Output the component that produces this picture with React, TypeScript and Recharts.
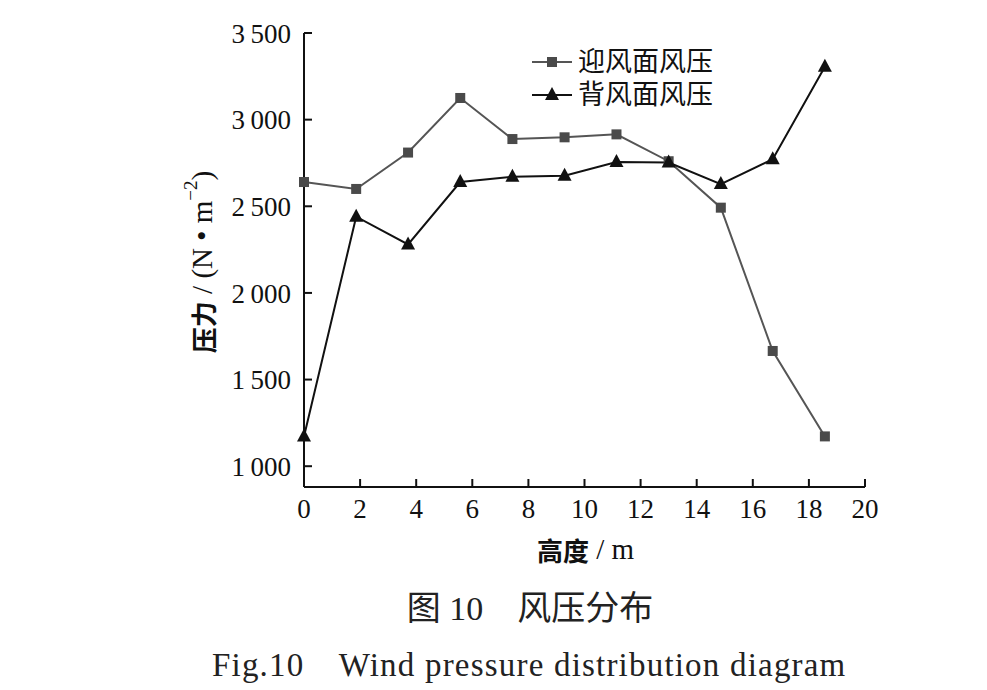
import React from 'react';
import { LineChart, Line, XAxis, YAxis, Legend } from 'recharts';

// heights along the building (m)
const heights = [0, 1.86, 3.71, 5.57, 7.43, 9.29, 11.14, 13.0, 14.86, 16.71, 18.57];
// windward face pressure (N/m2)
const windward = [2640, 2600, 2810, 3125, 2888, 2898, 2915, 2760, 2492, 1665, 1172];
// leeward face pressure (N/m2)
const leeward = [1172, 2440, 2280, 2640, 2670, 2676, 2755, 2752, 2628, 2772, 3305];

const xTicks = [0, 2, 4, 6, 8, 10, 12, 14, 16, 18, 20];
const yTicks = [1000, 1500, 2000, 2500, 3000, 3500];
const seriesNames = ['迎风面风压', '背风面风压'];

const data = heights.map((h, i) => ({ h, windward: windward[i], leeward: leeward[i] }));

const SERIF = '"Liberation Serif", "Noto Sans CJK SC", serif';
const GREY = '#555555';

const fmt = (v: number) => {
  const s = String(v);
  return s.length > 3 ? s.slice(0, s.length - 3) + '\u2009' + s.slice(-3) : s;
};

const SquareDot = (props: any) => {
  const { cx, cy, index } = props;
  if (cx == null || cy == null) return <g key={`s${index}`} />;
  return <rect key={`s${index}`} x={cx - 5} y={cy - 5} width={10} height={10} fill="#4a4a4a" />;
};

const TriangleDot = (props: any) => {
  const { cx, cy, index } = props;
  if (cx == null || cy == null) return <g key={`t${index}`} />;
  return (
    <polygon
      key={`t${index}`}
      points={`${cx},${cy - 8} ${cx - 7},${cy + 5} ${cx + 7},${cy + 5}`}
      fill="#111"
    />
  );
};

const renderLegend = () => (
  <div style={{ fontFamily: SERIF, fontSize: 27, color: '#111', lineHeight: '33px' }}>
    {seriesNames.map((name, i) => (
      <div key={name} style={{ display: 'flex', alignItems: 'center' }}>
        <svg width={46} height={33}>
          <line x1={2} x2={42} y1={16} y2={16} stroke={i === 0 ? GREY : '#111'} strokeWidth={2} />
          {i === 0 ? (
            <rect x={17} y={11} width={10} height={10} fill="#4a4a4a" />
          ) : (
            <polygon points="22,8 15,21 29,21" fill="#111" />
          )}
        </svg>
        <span style={{ marginLeft: 2 }}>{name}</span>
      </div>
    ))}
  </div>
);

const YLabel = () => {
  const cx = 202;
  const cy = 262;
  return (
    <text
      x={cx}
      y={cy}
      transform={`rotate(-90, ${cx}, ${cy})`}
      textAnchor="middle"
      dominantBaseline="central"
      fontFamily={SERIF}
      fontSize={29}
      fill="#111"
    >
      <tspan fontWeight="bold" fontFamily='"Noto Sans CJK SC", sans-serif' fontSize={26}>压力</tspan>
      <tspan> / (N • m</tspan>
      <tspan fontSize={19} dy={-12}>−2</tspan>
      <tspan dy={12}>)</tspan>
    </text>
  );
};

const XLabel = (props: any) => {
  const { viewBox } = props;
  return (
    <text
      x={viewBox.x + viewBox.width / 2 + 1}
      y={549}
      textAnchor="middle"
      dominantBaseline="central"
      fontFamily={SERIF}
      fontSize={29}
      fill="#111"
    >
      <tspan fontWeight="bold" fontFamily='"Noto Sans CJK SC", sans-serif' fontSize={26}>高度</tspan>
      <tspan> / m</tspan>
    </text>
  );
};

export default function App() {
  return (
    <div style={{ position: 'absolute', left: 0, top: 0, width: 987, height: 690, background: '#fff' }}>
      <LineChart
        width={987}
        height={690}
        data={data}
        margin={{ top: 33, right: 122, bottom: 0, left: 240 }}
      >
        <XAxis
          dataKey="h"
          type="number"
          domain={[0, 20]}
          ticks={xTicks}
          interval={0}
          height={203}
          axisLine={{ stroke: '#111', strokeWidth: 2 }}
          tickLine={{ stroke: '#111', strokeWidth: 2, transform: 'translate(0,-8)' }}
          tickSize={8}
          tickMargin={4}
          tick={{ fill: '#111', fontFamily: SERIF, fontSize: 27 }}
          label={<XLabel />}
        />
        <XAxis
          xAxisId="top"
          orientation="top"
          type="number"
          domain={[0, 20]}
          height={0}
          tick={false}
          tickLine={false}
          axisLine={{ stroke: '#111', strokeWidth: 2 }}
        />
        <YAxis
          type="number"
          domain={[880, 3500]}
          ticks={yTicks}
          interval={0}
          width={64}
          allowDataOverflow
          axisLine={{ stroke: '#111', strokeWidth: 2 }}
          tickLine={{ stroke: '#111', strokeWidth: 2, transform: 'translate(8,0)' }}
          tickSize={8}
          tickMargin={5}
          tickFormatter={fmt}
          tick={{ fill: '#111', fontFamily: SERIF, fontSize: 27 }}
          label={<YLabel />}
        />
        <YAxis
          yAxisId="right"
          orientation="right"
          type="number"
          domain={[880, 3500]}
          width={0}
          tick={false}
          tickLine={false}
          axisLine={{ stroke: '#111', strokeWidth: 2 }}
        />
        <Legend
          layout="horizontal"
          align="center"
          verticalAlign="middle"
          content={renderLegend}
          wrapperStyle={{ position: 'absolute', left: 530, top: 46, width: 220, height: 70 }}
        />
        <Line
          dataKey="windward"
          name={seriesNames[0]}
          stroke={GREY}
          strokeWidth={2}
          dot={SquareDot}
          isAnimationActive={false}
        />
        <Line
          dataKey="leeward"
          name={seriesNames[1]}
          stroke="#111"
          strokeWidth={2}
          dot={TriangleDot}
          isAnimationActive={false}
        />
      </LineChart>
      <div
        style={{
          position: 'absolute',
          left: 0,
          width: 1060,
          top: 581,
          textAlign: 'center',
          fontFamily: SERIF,
          fontSize: 34,
          color: '#222',
          whiteSpace: 'pre',
        }}
      >
        图 10{'\u3000'}风压分布
      </div>
      <div
        style={{
          position: 'absolute',
          left: 212,
          top: 638,
          fontFamily: SERIF,
          fontSize: 33,
          letterSpacing: 1.2,
          color: '#222',
          whiteSpace: 'pre',
        }}
      >
        Fig.10{'\u3000'}Wind pressure distribution diagram
      </div>
    </div>
  );
}
